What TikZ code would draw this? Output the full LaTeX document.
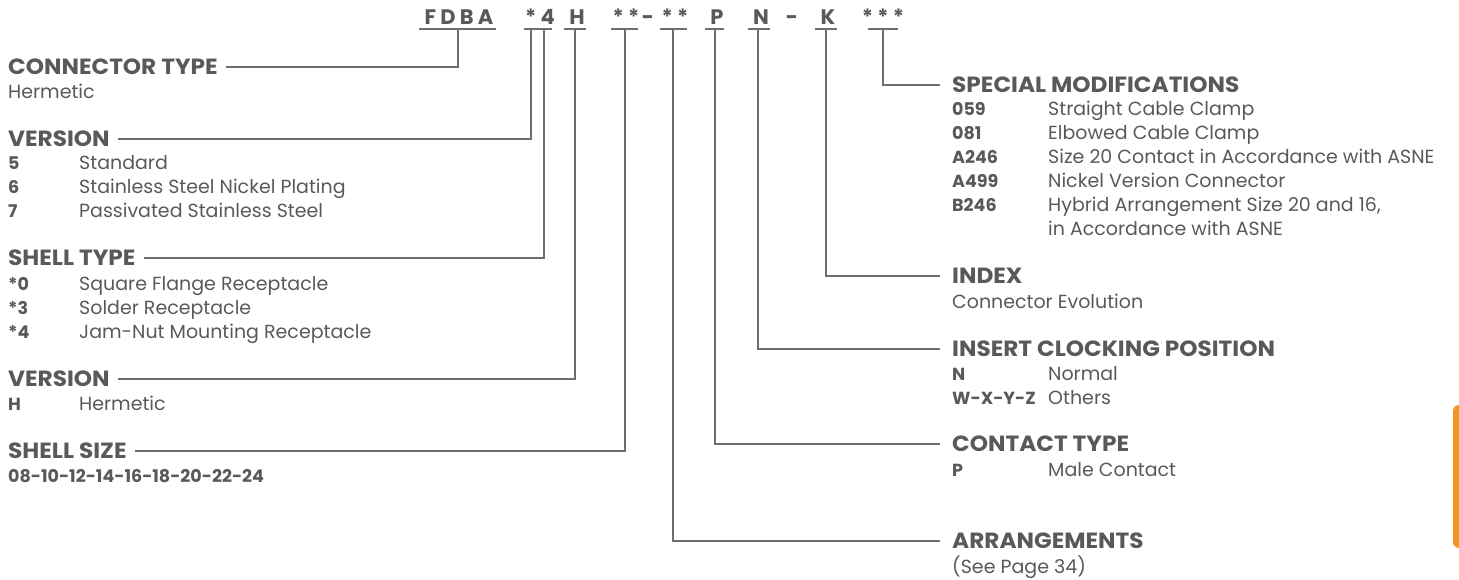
\documentclass[tikz,border=0pt]{standalone}
\usepackage{fontspec}
\setmainfont{Poppins}
\definecolor{txt}{HTML}{58595B}
\definecolor{ln}{HTML}{6D6E71}
\definecolor{org}{HTML}{F7941D}
\tikzset{
  hdr/.style={anchor=west,inner sep=0pt,text=txt,font=\fontsize{22}{22}\selectfont\bfseries\addfontfeatures{FakeStretch=1.055}},
  cd/.style={anchor=base west,inner sep=0pt,text=txt,font=\fontsize{17.5}{17.5}\selectfont\bfseries},
  ds/.style={anchor=base west,inner sep=0pt,text=txt,font=\fontsize{19}{19}\selectfont},
  ttl/.style={anchor=base,inner sep=0pt,text=txt,font=\fontsize{21}{21}\selectfont\bfseries\addfontfeatures{LetterSpace=20}},
  ul/.style={draw=ln,line width=1.2pt},
  con/.style={draw=ln,line width=1.2pt},
}
\begin{document}
\begin{tikzpicture}[x=1pt,y=-1pt]
\useasboundingbox (0,0) rectangle (1459,580);
% title row
\node[ttl] (tFDBA) at (459,25) {FDBA};
\node[ttl] (tST) at (540,25) {*4};
\node[ttl] (tH) at (577,25) {H};
\node[ttl] (tS1) at (626,25) {**};
\node[ttl] (tD1) at (648,25) {-};
\node[ttl] (tS2) at (675,25) {**};
\node[ttl] (tP) at (717,25) {P};
\node[ttl] (tN) at (761,25) {N};
\node[ttl] (tD2) at (792,25) {-};
\node[ttl] (tK) at (828,25) {K};
\node[ttl] (tS3) at (883,25) {***};
% underlines
\draw[ul] (419,29) -- (496,29);
\draw[ul] (524,29) -- (552,29);
\draw[ul] (564,29) -- (586,29);
\draw[ul] (611,29) -- (638,29);
\draw[ul] (660,29) -- (687,29);
\draw[ul] (705,29) -- (724,29);
\draw[ul] (748,29) -- (770,29);
\draw[ul] (815,29) -- (837,29);
\draw[ul] (868,29) -- (898,29);
\coordinate (cFDBA) at (458,29);
\coordinate (cStar) at (531,29);
\coordinate (cFour) at (544,29);
\coordinate (cH) at (575,29);
\coordinate (cS1) at (625,29);
\coordinate (cS2) at (673,29);
\coordinate (cP) at (715,29);
\coordinate (cN) at (758,29);
\coordinate (cK) at (826,29);
\coordinate (cS3) at (883,29);
% left headings
\node[hdr] (hCT) at (8,67) {CONNECTOR TYPE};
\node[ds] at (8,99) {Hermetic};
\node[hdr] (hV1) at (8,139) {VERSION};
\node[cd] at (8,170) {5};\node[ds] at (79,170) {Standard};
\node[cd] at (8,194) {6};\node[ds] at (79,194) {Stainless Steel Nickel Plating};
\node[cd] at (8,218) {7};\node[ds] at (79,218) {Passivated Stainless Steel};
\node[hdr] (hST) at (8,258) {SHELL TYPE};
\node[cd] at (8,290) {*0};\node[ds] at (79,290) {Square Flange Receptacle};
\node[cd] at (8,314) {*3};\node[ds] at (79,314) {Solder Receptacle};
\node[cd] at (8,338) {*4};\node[ds] at (79,338) {Jam-Nut Mounting Receptacle};
\node[hdr] (hV2) at (8,379) {VERSION};
\node[cd] at (8,410) {H};\node[ds] at (79,410) {Hermetic};
\node[hdr] (hSS) at (8,451) {SHELL SIZE};
\node[cd] at (8,482) {08-10-12-14-16-18-20-22-24};
% right headings
\node[hdr] (hSM) at (952,85) {SPECIAL MODIFICATIONS};
\node[cd] at (952,116) {059};\node[ds] at (1048,116) {Straight Cable Clamp};
\node[cd] at (952,140) {081};\node[ds] at (1048,140) {Elbowed Cable Clamp};
\node[cd] at (952,164) {A246};\node[ds] at (1048,164) {Size 20 Contact in Accordance with ASNE};
\node[cd] at (952,188) {A499};\node[ds] at (1048,188) {Nickel Version Connector};
\node[cd] at (952,212) {B246};\node[ds] at (1048,212) {Hybrid Arrangement Size 20 and 16,};
\node[ds] at (1048,236) {in Accordance with ASNE};
\node[hdr] (hIX) at (952,276) {INDEX};
\node[ds] at (952,308) {Connector Evolution};
\node[hdr] (hIC) at (952,349) {INSERT CLOCKING POSITION};
\node[cd] at (952,380) {N};\node[ds] at (1048,380) {Normal};
\node[cd] at (952,404) {W-X-Y-Z};\node[ds] at (1048,404) {Others};
\node[hdr] (hCO) at (952,444) {CONTACT TYPE};
\node[cd] at (952,476) {P};\node[ds] at (1048,476) {Male Contact};
\node[hdr] (hAR) at (952,541) {ARRANGEMENTS};
\node[ds] at (952,573) {(See Page 34)};
% connectors
\draw[con] (cFDBA) |- ([xshift=8pt]hCT.east);
\draw[con] (cStar) |- ([xshift=8pt]hV1.east);
\draw[con] (cFour) |- ([xshift=8pt]hST.east);
\draw[con] (cH) |- ([xshift=8pt]hV2.east);
\draw[con] (cS1) |- ([xshift=8pt]hSS.east);
\draw[con] (cS3) |- ([xshift=-12pt]hSM.west);
\draw[con] (cK) |- ([xshift=-12pt]hIX.west);
\draw[con] (cN) |- ([xshift=-12pt]hIC.west);
\draw[con] (cP) |- ([xshift=-12pt]hCO.west);
\draw[con] (cS2) |- ([xshift=-12pt]hAR.west);
% orange tab
\fill[org,rounded corners=6pt] (1453,405) -- (1453,548) -- (1470,548) -- (1470,405) -- cycle;
\end{tikzpicture}
\end{document}
